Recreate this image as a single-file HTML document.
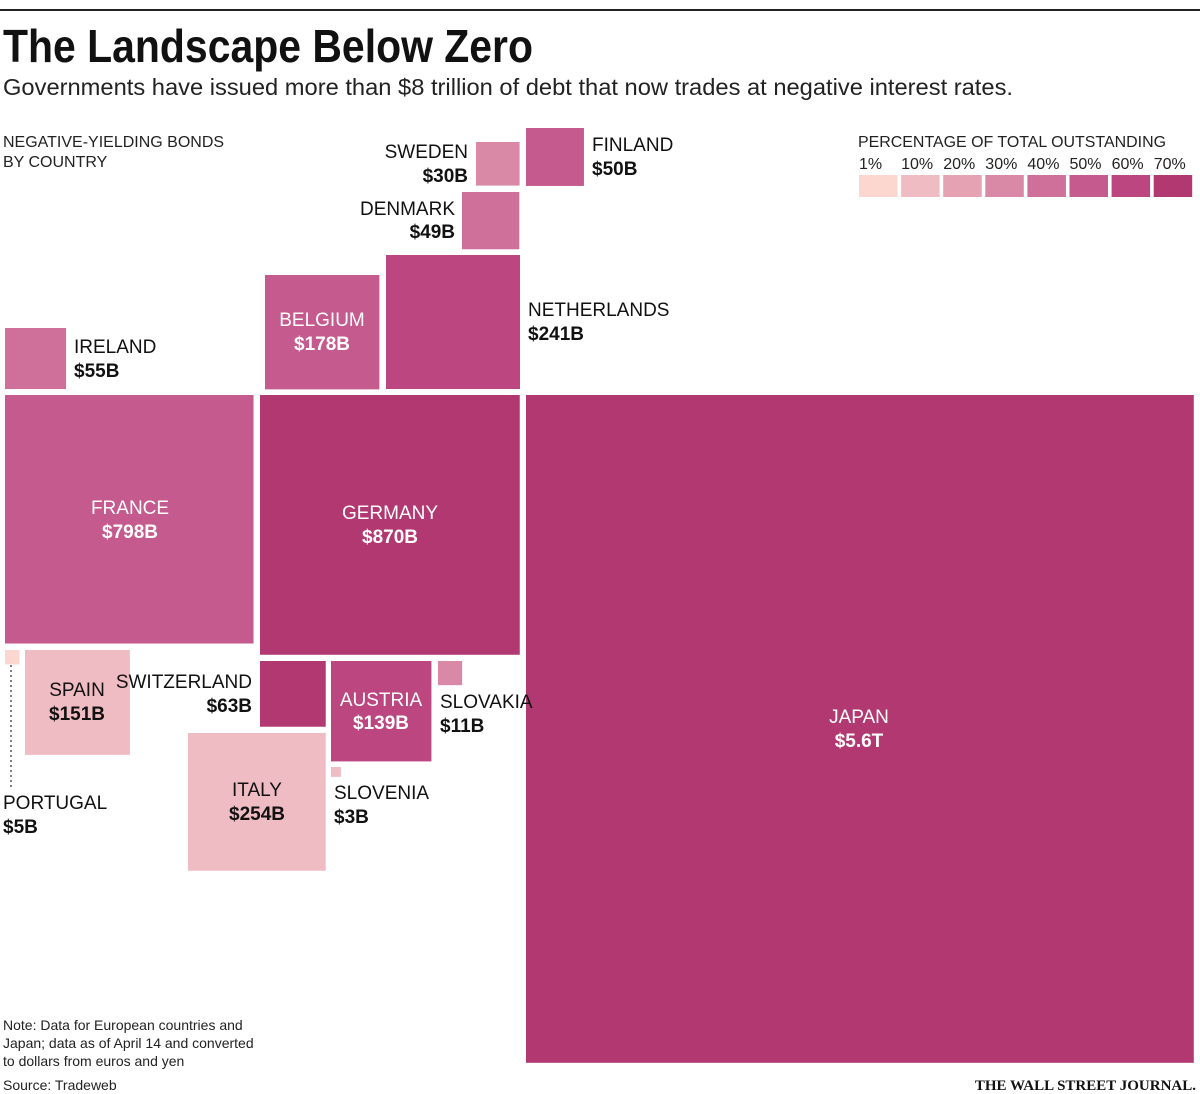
<!DOCTYPE html>
<html><head><meta charset="utf-8"><style>
html,body{margin:0;padding:0;background:#fff;}
svg{display:block;font-family:"Liberation Sans",sans-serif;}
.n{font-size:19px;fill:#111;}
.v{font-size:19px;font-weight:bold;fill:#111;}
.w{fill:#fff;}
.s{font-size:16px;fill:#222;}
.note{font-size:14px;fill:#222;}
</style></head><body>
<svg id="chart" width="1200" height="1094" viewBox="0 0 1200 1094">
<line x1="0" y1="10" x2="1200" y2="10" stroke="#222" stroke-width="2"/>
<text x="3" y="62" font-size="46" font-weight="bold" fill="#111" textLength="530" lengthAdjust="spacingAndGlyphs">The Landscape Below Zero</text>
<text x="3" y="95" font-size="23" fill="#222" textLength="1010" lengthAdjust="spacingAndGlyphs">Governments have issued more than $8 trillion of debt that now trades at negative interest rates.</text>
<g>
<text class="s" x="3" y="147">NEGATIVE-YIELDING BONDS</text>
<text class="s" x="3" y="167">BY COUNTRY</text>
</g>
<g id="legend">
<text class="s" x="858" y="147" textLength="308" lengthAdjust="spacingAndGlyphs">PERCENTAGE OF TOTAL OUTSTANDING</text>
</g>
<g id="squares"></g>
<line x1="11" y1="665" x2="11" y2="788" stroke="#555" stroke-width="1.5" stroke-dasharray="2,3"/>
<g id="labels">
<text class="n" x="468" y="158" text-anchor="end">SWEDEN</text><text class="v" x="468" y="182" text-anchor="end">$30B</text>
<text class="n" x="592" y="151">FINLAND</text><text class="v" x="592" y="175">$50B</text>
<text class="n" x="455" y="215" text-anchor="end">DENMARK</text><text class="v" x="455" y="238" text-anchor="end">$49B</text>
<text class="n" x="528" y="316">NETHERLANDS</text><text class="v" x="528" y="340">$241B</text>
<text class="n w" x="322" y="326" text-anchor="middle">BELGIUM</text><text class="v w" x="322" y="350" text-anchor="middle">$178B</text>
<text class="n" x="74" y="353">IRELAND</text><text class="v" x="74" y="377">$55B</text>
<text class="n w" x="130" y="514" text-anchor="middle">FRANCE</text><text class="v w" x="130" y="538" text-anchor="middle">$798B</text>
<text class="n w" x="390" y="519" text-anchor="middle">GERMANY</text><text class="v w" x="390" y="543" text-anchor="middle">$870B</text>
<text class="n w" x="859" y="723" text-anchor="middle">JAPAN</text><text class="v w" x="859" y="747" text-anchor="middle">$5.6T</text>
<text class="n" x="77" y="696" text-anchor="middle">SPAIN</text><text class="v" x="77" y="720" text-anchor="middle">$151B</text>
<text class="n" x="252" y="688" text-anchor="end">SWITZERLAND</text><text class="v" x="252" y="712" text-anchor="end">$63B</text>
<text class="n w" x="381" y="706" text-anchor="middle">AUSTRIA</text><text class="v w" x="381" y="729" text-anchor="middle">$139B</text>
<text class="n" x="440" y="708">SLOVAKIA</text><text class="v" x="440" y="732">$11B</text>
<text class="n" x="257" y="796" text-anchor="middle">ITALY</text><text class="v" x="257" y="820" text-anchor="middle">$254B</text>
<text class="n" x="334" y="799">SLOVENIA</text><text class="v" x="334" y="823">$3B</text>
<text class="n" x="3" y="809">PORTUGAL</text><text class="v" x="3" y="833">$5B</text>
</g>
<g>
<text class="note" x="3" y="1030">Note: Data for European countries and</text>
<text class="note" x="3" y="1048">Japan; data as of April 14 and converted</text>
<text class="note" x="3" y="1066">to dollars from euros and yen</text>
<text class="note" x="3" y="1090">Source: Tradeweb</text>
</g>
<text x="1196" y="1090" text-anchor="end" font-family="Liberation Serif,serif" font-weight="bold" font-size="15" fill="#111">THE WALL STREET JOURNAL.</text>
</svg>
<script>
const countries = ["Sweden","Finland","Denmark","Netherlands","Belgium","Ireland","France","Germany","Japan","Portugal","Spain","Switzerland","Austria","Slovakia","Italy","Slovenia"];
const valuesB = [30,50,49,241,178,55,798,870,5600,5,151,63,139,11,254,3];
const pctBucket = [30,50,40,60,50,40,50,70,70,1,10,70,60,30,10,10];
const legendLabels = ["1%","10%","20%","30%","40%","50%","60%","70%"];
const legendLevels = [1,10,20,30,40,50,60,70];
const palette = ["#fcd7d0","#f0bcc4","#e4a2b3","#d988a6","#ce709a","#c55a8e","#bb4680","#b23872"];
// layout anchors (top-left corner), not data
const anchors = [[476,142],[526,128],[462,192],[386,255],[265,275],[5,328],[5,395],[260,395],[526,395],[5,650],[25,650],[260,661],[331,661],[438,661],[188,733],[331,767]];
const ns="http://www.w3.org/2000/svg";
const side = v => Math.max(2, 9*Math.sqrt(v) - 5.7);
const colorFor = p => palette[legendLevels.indexOf(p)];
const sq=document.getElementById('squares');
countries.forEach((c,i)=>{
  const s=side(valuesB[i]);
  const r=document.createElementNS(ns,'rect');
  r.setAttribute('x',anchors[i][0]);r.setAttribute('y',anchors[i][1]);
  r.setAttribute('width',s);r.setAttribute('height',s);
  r.setAttribute('fill',colorFor(pctBucket[i]));
  
  
  sq.appendChild(r);
});
const lg=document.getElementById('legend');
legendLabels.forEach((l,i)=>{
  const x=859+i*42.1;
  const t=document.createElementNS(ns,'text');
  t.setAttribute('x',x);t.setAttribute('y',169);t.setAttribute('class','s');
  t.textContent=l;
  
  
  lg.appendChild(t);
  const r=document.createElementNS(ns,'rect');
  r.setAttribute('x',x);r.setAttribute('y',175);r.setAttribute('width',38.5);r.setAttribute('height',22);
  r.setAttribute('fill',colorFor(legendLevels[i]));
  
  
  lg.appendChild(r);
});
</script>
</body></html>
